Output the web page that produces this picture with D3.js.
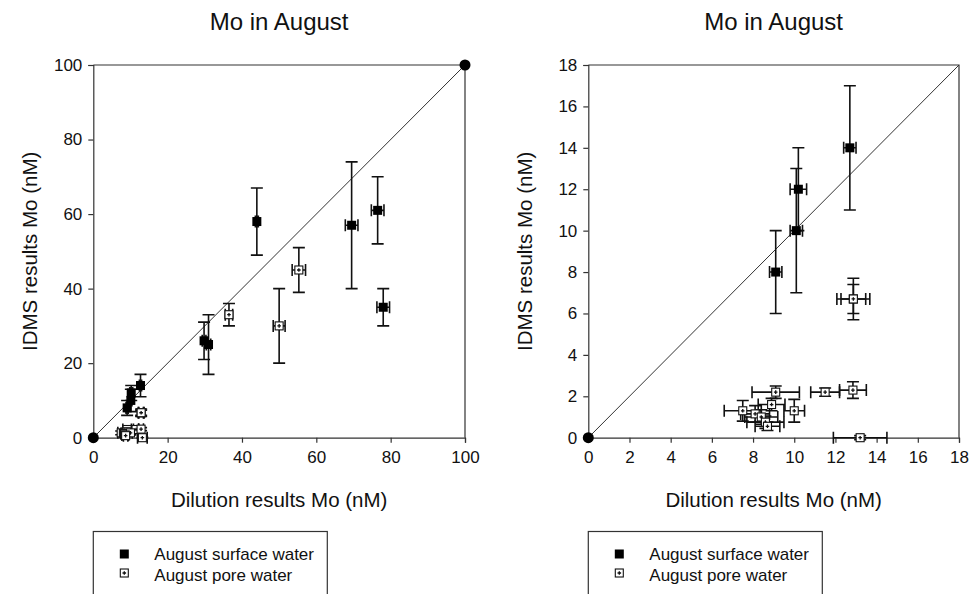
<!DOCTYPE html>
<html>
<head>
<meta charset="utf-8">
<script src="https://cdn.jsdelivr.net/npm/d3@7/dist/d3.min.js"></script>
<style>
  html, body { margin: 0; padding: 0; background: #fff; }
  svg { display: block; }
  text { font-family: "Liberation Sans", Arial, sans-serif; fill: #111; }
</style>
</head>
<body>
<svg id="chart" width="972" height="594"></svg>
<script>
// Surface water: dilution result (x), IDMS result (y), and their errors
const surfaceX  = [12.7, 10.2, 10.1, 9.1, 29.8, 31.0, 44.0, 69.5, 76.5, 78.0];
const surfaceY  = [14, 12, 10, 8, 26, 25, 58, 57, 61, 35];
const surfaceXe = [0.3, 0.4, 0.3, 0.3, 0.5, 0.6, 0.4, 1.7, 1.7, 1.7];
const surfaceYe = [3, 2, 3, 2, 5, 8, 9, 17, 9, 5];

// Pore water
const poreX  = [9.1, 11.5, 12.85, 8.9, 7.5, 8.1, 8.4, 10.0, 8.6, 8.7, 13.2, 12.87, 12.87, 36.5, 50.0, 55.3];
const poreY  = [2.2, 2.2, 2.3, 1.6, 1.3, 1.15, 1.0, 1.3, 0.75, 0.55, 0.0, 6.7, 6.7, 33, 30, 45];
const poreXe = [1.15, 0.7, 0.65, 0.65, 0.9, 0.7, 0.8, 0.5, 0.9, 0.6, 1.3, 0.8, 0.6, 1.0, 1.6, 1.8];
const poreYe = [0.3, 0.2, 0.4, 0.3, 0.5, 0.4, 0.35, 0.55, 0.3, 0.2, 0.1, 1.0, 0.7, 3, 10, 6];

// 1:1 reference end points
const refX = [0, 100];
const refY = [0, 100];

const leftTicks  = [0, 20, 40, 60, 80, 100];
const rightTicks = [0, 2, 4, 6, 8, 10, 12, 14, 16, 18];

const titleText  = "Mo in August";
const xLabelText = "Dilution results Mo (nM)";
const yLabelText = "IDMS results Mo (nM)";
const legendLabels = ["August surface water", "August pore water"];

const svg = d3.select("#chart");

function zip(xs, ys, xe, ye) {
  return xs.map((x, i) => ({ x, y: ys[i], xe: xe[i], ye: ye[i] }));
}
const surface = zip(surfaceX, surfaceY, surfaceXe, surfaceYe);
const pore = zip(poreX, poreY, poreXe, poreYe);
const refPts = refX.map((x, i) => ({ x, y: refY[i] }));

function poreMarker(sel, cx, cy) {
  sel.append("rect").attr("x", cx - 4).attr("y", cy - 4).attr("width", 8).attr("height", 8)
    .attr("fill", "#fff").attr("stroke", "#111").attr("stroke-width", 1.1);
  sel.append("path").attr("d", `M${cx - 1.8},${cy}H${cx + 1.8}M${cx},${cy - 1.8}V${cy + 1.8}`)
    .attr("stroke", "#111").attr("stroke-width", 1.3);
}

function panel(cfg) {
  const { x0, x1, y0, y1, max, ticks } = cfg;
  const x = d3.scaleLinear().domain([0, max]).range([x0, x1]);
  const y = d3.scaleLinear().domain([0, max]).range([y1, y0]);
  const g = svg.append("g");
  const inside = d => d.x >= 0 && d.x <= max && d.y >= 0 && d.y <= max;

  // Frame: top and right edges
  g.append("path")
    .attr("d", `M${x0},${y0}H${x1}V${y1}`)
    .attr("fill", "none").attr("stroke", "#333").attr("stroke-width", 1.2);

  // Axes
  const xAxis = d3.axisBottom(x).tickValues(ticks).tickSize(5).tickPadding(8).tickFormat(d3.format("d"));
  const yAxis = d3.axisLeft(y).tickValues(ticks).tickSize(5).tickPadding(6).tickFormat(d3.format("d"));
  const gx = g.append("g").attr("transform", `translate(0,${y1})`).call(xAxis);
  const gy = g.append("g").attr("transform", `translate(${x0},0)`).call(yAxis);
  [gx, gy].forEach(a => {
    a.select(".domain").attr("stroke", "#333").attr("stroke-width", 1.2);
    a.selectAll(".tick line").attr("stroke", "#333").attr("stroke-width", 1.2);
    a.selectAll(".tick text").style("font-size", "17px").style("font-family", "'Liberation Sans', Arial, sans-serif").attr("fill", "#111");
  });

  // 1:1 line
  g.append("line")
    .attr("x1", x(0)).attr("y1", y(0)).attr("x2", x(max)).attr("y2", y(max))
    .attr("stroke", "#333").attr("stroke-width", 1);

  // Error bars
  const cap = 6;
  const eb = g.append("g").attr("stroke", "#111").attr("stroke-width", 1.6).attr("fill", "none");
  [...surface, ...pore].filter(inside).forEach(d => {
    const cx = x(d.x), cy = y(d.y);
    const xl = x(d.x - d.xe), xr = x(d.x + d.xe);
    const yt = y(d.y + d.ye), yb = y(d.y - d.ye);
    eb.append("path").attr("d",
      `M${cx},${yt}V${yb}M${cx - cap},${yt}H${cx + cap}M${cx - cap},${yb}H${cx + cap}` +
      `M${xl},${cy}H${xr}M${xl},${cy - cap}V${cy + cap}M${xr},${cy - cap}V${cy + cap}`);
  });

  // Pore water markers: open square with a small cross
  const pg = g.append("g");
  pore.filter(inside).forEach(d => poreMarker(pg, x(d.x), y(d.y)));

  // Surface water markers: filled squares
  const ss = 9;
  g.append("g").selectAll("rect").data(surface.filter(inside)).join("rect")
    .attr("x", d => x(d.x) - ss / 2).attr("y", d => y(d.y) - ss / 2)
    .attr("width", ss).attr("height", ss).attr("fill", "#000");

  // Reference end points
  g.append("g").selectAll("circle").data(refPts.filter(inside)).join("circle")
    .attr("cx", d => x(d.x)).attr("cy", d => y(d.y)).attr("r", 5.5).attr("fill", "#000");

  // Titles
  const cxMid = (x0 + x1) / 2;
  g.append("text").attr("x", cxMid).attr("y", 30).attr("text-anchor", "middle")
    .style("font-size", "24px").text(titleText);
  g.append("text").attr("x", cxMid).attr("y", 507).attr("text-anchor", "middle")
    .style("font-size", "20.5px").text(xLabelText);
  g.append("text").attr("transform", `translate(${x0 - 56},${(y0 + y1) / 2}) rotate(-90)`)
    .attr("text-anchor", "middle").style("font-size", "20.5px").text(yLabelText);

  // Legend
  const lg = g.append("g");
  lg.append("rect").attr("x", x0).attr("y", 531.5).attr("width", 234).attr("height", 80)
    .attr("fill", "#fff").attr("stroke", "#333").attr("stroke-width", 1.2);
  const sx = x0 + 31;
  lg.append("rect").attr("x", sx - 4.5).attr("y", 554 - 4.5).attr("width", 9).attr("height", 9).attr("fill", "#000");
  poreMarker(lg, sx, 573);
  legendLabels.forEach((t, i) => {
    lg.append("text").attr("x", x0 + 61).attr("y", 560 + i * 20.5)
      .style("font-size", "17px").text(t);
  });
}

panel({ x0: 93.3, x1: 465, y0: 65, y1: 437.7, max: 100, ticks: leftTicks });
panel({ x0: 588.3, x1: 959, y0: 65, y1: 437.7, max: 18, ticks: rightTicks });
</script>
</body>
</html>
